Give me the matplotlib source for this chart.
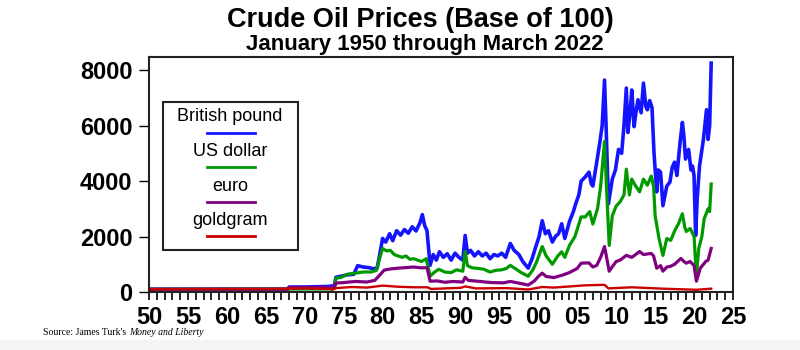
import matplotlib
matplotlib.use("Agg")
import matplotlib.pyplot as plt
from matplotlib.ticker import MultipleLocator, FuncFormatter
from matplotlib.patches import Rectangle

plt.rcParams['font.family'] = ['Liberation Sans', 'DejaVu Sans']

# values (year, index value, base 100)
pound_years = [1950, 1967.8, 1968.0, 1970, 1973.0, 1973.8, 1974.0, 1974.5, 1975.5, 1976.3, 1976.8, 1977.5,
               1978.2, 1978.8, 1979.3, 1979.6, 1980.0, 1980.4, 1980.9, 1981.3, 1981.8, 1982.3, 1982.8, 1983.3,
               1983.8, 1984.3, 1984.8, 1985.1, 1985.4, 1985.7, 1986.1, 1986.5, 1986.9, 1987.3, 1987.8, 1988.3,
               1988.8, 1989.3, 1989.8, 1990.3, 1990.6, 1990.9, 1991.3, 1991.8, 1992.3, 1992.8, 1993.3, 1993.8,
               1994.3, 1994.8, 1995.3, 1995.8, 1996.4, 1996.9, 1997.5, 1998.0, 1998.7, 1999.2, 1999.6, 2000.1,
               2000.5, 2000.9, 2001.3, 2001.8, 2002.2, 2002.6, 2003.0, 2003.4, 2004.0, 2004.5, 2004.8, 2005.2,
               2005.5, 2006.0, 2006.5, 2006.8, 2007.0, 2007.5, 2007.9, 2008.2, 2008.5, 2008.7, 2009.0, 2009.5,
               2009.9, 2010.3, 2010.7, 2011.0, 2011.3, 2011.5, 2011.8, 2012.0, 2012.3, 2012.5, 2012.8, 2013.2,
               2013.5, 2013.8, 2014.0, 2014.3, 2014.6, 2014.85, 2015.2, 2015.4, 2015.7, 2016.0, 2016.5, 2016.9,
               2017.2, 2017.5, 2017.8, 2018.2, 2018.5, 2018.7, 2018.9, 2019.3, 2019.6, 2019.8, 2020.0, 2020.2,
               2020.4, 2020.7, 2021.2, 2021.6, 2021.8, 2022.0, 2022.2]
pound = [100, 100, 180, 180, 200, 230, 530, 560, 620, 640, 950, 900,
         880, 840, 860, 1300, 1930, 1800, 2100, 1850, 2210, 2050, 2250, 2120,
         2350, 2200, 2500, 2790, 2400, 2210, 960, 1350, 1150, 1450, 1250, 1380,
         1150, 1400, 1250, 1150, 2040, 1400, 1500, 1300, 1450, 1300, 1400, 1200,
         1350, 1300, 1400, 1250, 1750, 1500, 1350, 1100, 860, 1200, 1570, 2000,
         2570, 2100, 2210, 1800, 2000, 2100, 2460, 1930, 2540, 2900, 3180, 3500,
         4000, 4140, 4320, 3900, 3820, 4680, 5400, 6000, 7640, 6000, 3180, 4070,
         4400, 5140, 5000, 6000, 7350, 5750, 6500, 7280, 5960, 6400, 6930, 6460,
         7530, 6700, 6570, 6900, 6640, 5040, 3610, 4400, 4320, 3110, 3820, 3960,
         4500, 4680, 4200, 5390, 6110, 5600, 4790, 5140, 4400, 4540, 4200, 2040,
         3360, 4540, 5500, 6570, 5500, 6000, 8250]

dollar_years = [1950, 1973.0, 1973.8, 1974.0, 1974.6, 1975.5, 1976.5, 1977.5, 1978.5, 1979.2, 1979.5, 1980.0,
                1980.5, 1981.0, 1981.5, 1982.0, 1982.5, 1983.0, 1983.5, 1984.0, 1984.5, 1985.0, 1985.6, 1986.1,
                1986.6, 1987.2, 1988.0, 1988.8, 1989.5, 1990.3, 1990.6, 1990.9, 1991.5, 1992.3, 1993.0, 1993.8,
                1994.5, 1995.3, 1995.9, 1996.4, 1997.0, 1997.8, 1998.7, 1999.3, 1999.8, 2000.5, 2001.0, 2001.8,
                2002.5, 2003.0, 2003.4, 2004.0, 2004.7, 2005.5, 2006.0, 2006.6, 2007.0, 2007.6, 2008.0, 2008.5,
                2008.8, 2009.1, 2009.5, 2010.0, 2010.5, 2011.0, 2011.3, 2011.7, 2012.0, 2012.5, 2013.0, 2013.5,
                2014.0, 2014.5, 2014.8, 2015.0, 2015.5, 2016.0, 2016.5, 2017.0, 2017.5, 2018.0, 2018.5, 2018.8,
                2019.0, 2019.5, 2020.0, 2020.3, 2020.6, 2021.0, 2021.3, 2021.8, 2022.0, 2022.2]
dollar = [100, 110, 120, 500, 520, 640, 680, 720, 720, 780, 1100, 1570,
          1480, 1500, 1350, 1300, 1250, 1300, 1180, 1200, 1150, 1100, 1200, 570,
          700, 820, 720, 700, 800, 750, 1460, 950, 870, 850, 820, 720,
          780, 800, 850, 960, 850, 700, 570, 800, 1100, 1640, 1300, 1000,
          1300, 1450, 1250, 1680, 2000, 2710, 2700, 2900, 2450, 3000, 3800, 5430,
          3500, 1680, 2750, 3100, 3250, 3500, 4430, 3500, 4070, 3820, 3610, 4070,
          3850, 4180, 3800, 2750, 1930, 1320, 1930, 1860, 2200, 2460, 2820, 2350,
          2180, 2290, 2000, 570, 1570, 2000, 2640, 3000, 2900, 3890]

euro_years = [1950, 1967.8, 1968.0, 1973.0, 1973.8, 1974.0, 1975.0, 1976.5, 1978.0, 1979.0, 1979.6, 1980.2,
              1981.0, 1982.0, 1983.0, 1984.0, 1985.0, 1985.7, 1986.1, 1987.0, 1988.0, 1989.0, 1990.3, 1990.6,
              1991.0, 1992.5, 1994.0, 1995.5, 1996.4, 1997.5, 1998.7, 1999.5, 2000.0, 2000.5, 2001.0, 2002.0,
              2003.0, 2004.0, 2005.0, 2005.5, 2006.5, 2007.0, 2007.5, 2008.0, 2008.5, 2008.8, 2009.1, 2009.6,
              2010.0, 2010.5, 2011.3, 2012.0, 2012.5, 2013.0, 2013.5, 2014.5, 2014.8, 2015.2, 2015.7, 2016.0,
              2016.5, 2017.0, 2017.5, 2018.3, 2018.7, 2019.0, 2019.5, 2020.0, 2020.3, 2020.8, 2021.5, 2021.8,
              2022.2]
euro = [100, 100, 160, 170, 160, 320, 340, 380, 360, 420, 600, 790,
        830, 860, 880, 900, 870, 880, 390, 400, 350, 380, 360, 530,
        420, 380, 340, 330, 380, 320, 250, 400, 560, 680, 560, 520,
        600, 700, 850, 1040, 1050, 900, 960, 1250, 1640, 1200, 750, 950,
        1100, 1150, 1320, 1250, 1350, 1460, 1350, 1390, 1300, 860, 950, 750,
        900, 930, 1000, 1210, 1100, 1040, 1100, 950, 390, 860, 1100, 1150,
        1570]

gold_years = [1950, 1955, 1960, 1965, 1970, 1973.2, 1973.5, 1974.0, 1976, 1978, 1980, 1982, 1984, 1985.8,
              1986.2, 1990, 1990.6, 1992, 1996, 1998.7, 2000.5, 2002, 2004, 2006, 2008.5, 2009, 2012, 2016,
              2020.3, 2022.2]
gold = [100, 105, 110, 110, 130, 110, 80, 140, 180, 160, 230, 190, 170, 170,
        110, 150, 200, 130, 140, 90, 180, 160, 200, 240, 260, 130, 170, 120,
        80, 120]

labels = ['British pound', 'US dollar', 'euro', 'goldgram']
colors = ['#1414ff', '#009a00', '#800080', '#cc0000']

fig = plt.figure(figsize=(8, 3.5), dpi=100)
ax = fig.add_axes([0.18625, 0.1657, 0.73, 0.6714])

ax.plot(pound_years, pound, color=colors[0], lw=2.6)
ax.plot(dollar_years, dollar, color=colors[1], lw=2.3)
ax.plot(euro_years, euro, color=colors[2], lw=2.3)
ax.plot(gold_years, gold, color=colors[3], lw=1.7)

ax.set_xlim(1950, 2025)
ax.set_ylim(0, 8470)
ax.xaxis.set_major_locator(MultipleLocator(5))
ax.xaxis.set_minor_locator(MultipleLocator(1))
ax.xaxis.set_major_formatter(FuncFormatter(lambda v, p: '%02d' % (int(round(v)) % 100)))
ax.set_yticks([0, 2000, 4000, 6000, 8000])
ax.tick_params(axis='x', which='both', direction='out', length=6, width=1.2, pad=4,
               labelsize=17)
ax.tick_params(axis='y', direction='out', length=7, width=1.0, pad=5, labelsize=17)
for lab in ax.get_xticklabels() + ax.get_yticklabels():
    lab.set_fontweight('bold')
for s in ax.spines.values():
    s.set_linewidth(1.5)
    s.set_color('#222222')

# legend box: label text above a line sample
ax.add_patch(Rectangle((0.024, 0.179), 0.231, 0.630, transform=ax.transAxes,
                       fill=False, lw=1.5, ec='#222222'))
ty = [0.745, 0.600, 0.451, 0.306]
for lab, c, y in zip(labels, colors, ty):
    ax.text(0.139, y, lab, transform=ax.transAxes, ha='center', va='center', fontsize=13)
    ax.plot([0.099, 0.182], [y - 0.068, y - 0.068], transform=ax.transAxes, color=c, lw=2)

fig.text(0.526, 0.943, 'Crude Oil Prices (Base of 100)', ha='center', va='center',
         fontsize=19.5, fontweight='bold')
fig.text(0.531, 0.874, 'January 1950 through March 2022', ha='center', va='center',
         fontsize=16, fontweight='bold')

t1 = fig.text(0.054, 0.049, "Source: James Turk's ", fontsize=7, family='Liberation Serif',
              va='center')
fig.canvas.draw()
bb = t1.get_window_extent()
fig.text(bb.x1 / fig.bbox.width, 0.049, 'Money and Liberty', fontsize=7,
         family='Liberation Serif', style='italic', va='center')

fig.patches.append(Rectangle((0, 0), 1, 0.029, transform=fig.transFigure,
                             color='#f4f4f4', zorder=-1))

fig.savefig('out.png', dpi=100)
